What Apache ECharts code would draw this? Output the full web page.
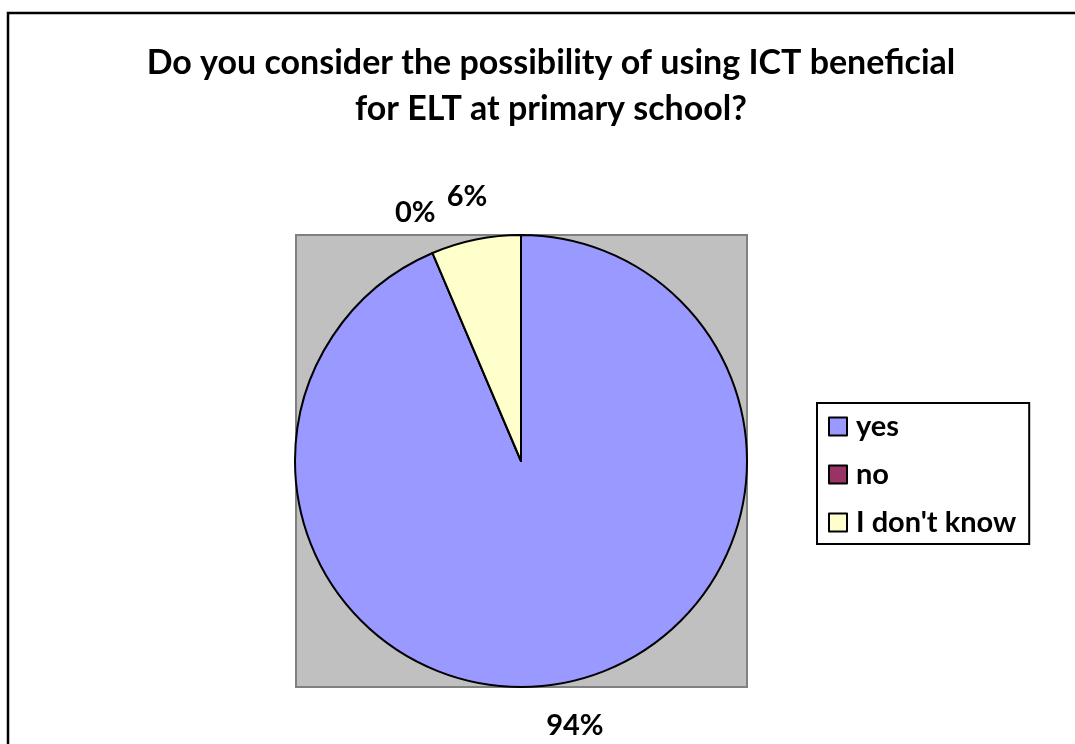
<!DOCTYPE html>
<html>
<head>
<meta charset="utf-8">
<style>
  html, body { margin: 0; padding: 0; background: #ffffff; }
  #chart { width: 1075px; height: 744px; }
</style>
<script src="https://cdn.jsdelivr.net/npm/echarts@6/dist/echarts.min.js"></script>
</head>
<body>
<div id="chart"></div>
<script>
// Survey answers and their share of respondents (percent)
const categories = ['yes', 'no', "I don't know"];
const shares = [93.6, 0, 6.4];
const sliceColors = ['#9999FF', '#993366', '#FFFFCC'];
const titleLines = ['Do you consider the possibility of using ICT beneficial', 'for ELT at primary school?'];

const FONT = 'Lato, "Open Sans", sans-serif';

const chart = echarts.init(document.getElementById('chart'), null, { renderer: 'canvas' });

const pieData = categories.map((name, i) => ({
  name: name,
  value: shares[i],
  itemStyle: { color: sliceColors[i] }
}));

chart.setOption({
  backgroundColor: '#ffffff',
  animation: false,
  title: {
    text: titleLines.join('\n'),
    left: 546,
    top: 35,
    textAlign: 'center',
    textStyle: {
      fontFamily: FONT,
      fontWeight: 'bold',
      fontSize: 34,
      lineHeight: 46,
      color: '#000000'
    }
  },
  legend: {
    orient: 'vertical',
    left: 817,
    top: 403,
    padding: [9, 13, 7, 11],
    itemGap: 19,
    itemWidth: 18,
    itemHeight: 18,
    icon: 'rect',
    borderColor: '#000000',
    borderWidth: 2,
    data: categories,
    itemStyle: { borderColor: '#000000', borderWidth: 2 },
    textStyle: {
      fontFamily: FONT,
      fontWeight: 'bold',
      fontSize: 29,
      color: '#000000',
      padding: [0, 0, 0, 4]
    }
  },
  graphic: [
    {
      type: 'rect',
      z: -10,
      shape: { x: 8, y: 13, width: 1200, height: 900 },
      style: { fill: 'none', stroke: '#000000', lineWidth: 2.5 }
    },
    {
      type: 'rect',
      z: -5,
      shape: { x: 296, y: 235, width: 451, height: 452 },
      style: { fill: '#C0C0C0', stroke: '#808080', lineWidth: 2 }
    }
  ],
  series: [{
    type: 'pie',
    center: [521, 461],
    radius: [0, 226],
    startAngle: 90,
    clockwise: true,
    avoidLabelOverlap: false,
    itemStyle: { borderColor: '#000000', borderWidth: 2 },
    label: {
      show: true,
      position: 'outside',
      distanceToLabelLine: 0,
      formatter: p => Math.round(p.percent) + '%',
      fontFamily: FONT,
      fontWeight: 'bold',
      fontSize: 29,
      color: '#000000'
    },
    labelLine: { show: false, length: 44, length2: 0 },
    // centre each percentage on its anchor point outside the rim
    labelLayout: { align: 'center' },
    data: pieData
  }]
});
</script>
</body>
</html>
